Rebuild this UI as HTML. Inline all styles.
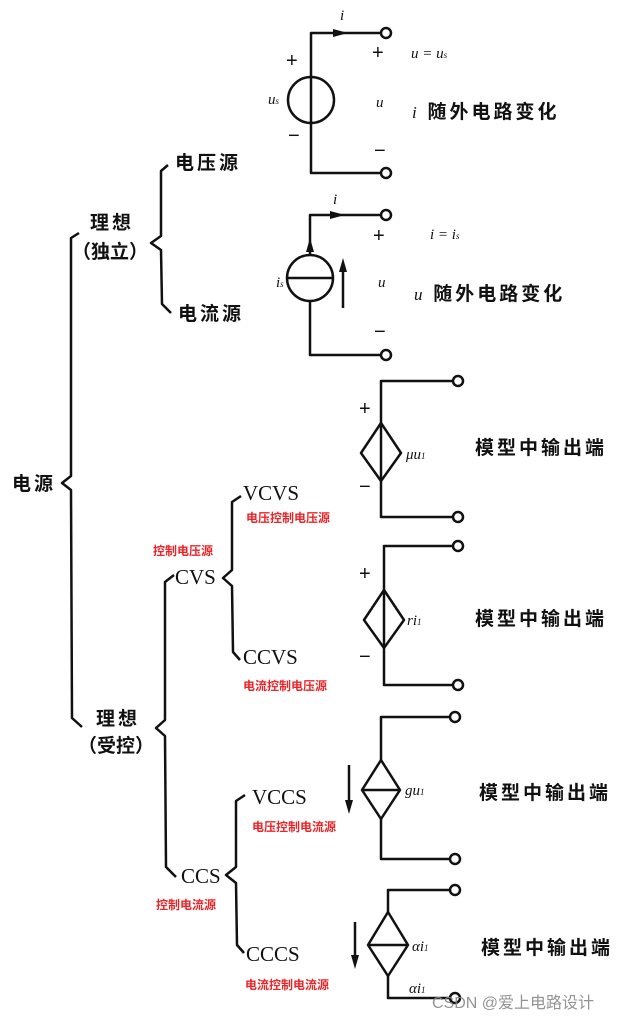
<!DOCTYPE html>
<html><head><meta charset="utf-8"><style>
html,body{margin:0;padding:0;background:#fff;}
svg{display:block;}
.cn{font-family:"Liberation Serif","Noto Sans CJK SC",sans-serif;font-size:19px;fill:#111;font-weight:bold;letter-spacing:3px;}
.red{font-family:"Liberation Sans","Noto Sans CJK SC",sans-serif;font-size:12px;fill:#e8262a;font-weight:bold;}
.en{font-family:"Liberation Serif",serif;font-size:21px;fill:#111;}
.it{font-family:"Liberation Serif",serif;font-style:italic;font-size:15px;fill:#111;}
.pm{font-family:"Liberation Sans",sans-serif;font-size:20px;fill:#111;}
</style></head><body>
<svg width="639" height="1023" viewBox="0 0 639 1023" xmlns="http://www.w3.org/2000/svg">
<g fill="none" stroke="#111" stroke-width="2.5" stroke-linejoin="round">
<path d="M79,233 L71,238 L71,476 L62,483 L71,490 L72,718 L82,727"/>
<path d="M168,165 L161,171 L161,236 L151,243 L161,250 L162,304 L171,313"/>
<path d="M174,575 L165,582 L165,720 L156,728 L165,736 L166,867 L176,877"/>
<path d="M241,496 L232,502 L232,570 L223,578 L232,586 L233,652 L240,660"/>
<path d="M245,795 L236,801 L236,867 L226,875 L236,883 L237,945 L244,953"/>
<path d="M381,33 L311,33 L311,173 L381,173"/>
<circle cx="311" cy="100" r="23"/>
<path d="M381,215 L310,215 L310,255 M310,301 L310,355 L381,355"/>
<circle cx="310" cy="278" r="23"/>
<path d="M287,278 L333,278"/>
<path d="M343,308 L343,270"/>
<path d="M453,381 L381,381 L381,517 L453,517"/>
<path d="M381,423 L401,453 L381,481 L361,453 Z"/>
<path d="M453,546 L384,546 L384,685 L453,685"/>
<path d="M384,590 L404,620 L384,648 L364,620 Z"/>
<path d="M450,717 L381,717 L381,760 M381,819 L381,859 L450,859"/>
<path d="M381,760 L400,790 L381,819 L362,790 Z M362,790 L400,790"/>
<path d="M349,765 L349,805"/>
<path d="M450,890 L388,890 L388,912 M388,976 L388,998 L450,998"/>
<path d="M388,912 L408,945 L388,976 L368,945 Z M368,945 L408,945"/>
<path d="M355,922 L355,960"/>
</g>
<g fill="#fff" stroke="#111" stroke-width="2.5">
<circle cx="386" cy="33" r="5"/><circle cx="386" cy="173" r="5"/>
<circle cx="386" cy="215" r="5"/><circle cx="386" cy="355" r="5"/>
<circle cx="458" cy="381" r="5"/><circle cx="458" cy="517" r="5"/>
<circle cx="458" cy="546" r="5"/><circle cx="458" cy="685" r="5"/>
<circle cx="455" cy="717" r="5"/><circle cx="455" cy="859" r="5"/>
<circle cx="455" cy="890" r="5"/><circle cx="455" cy="998" r="5"/>
</g>
<g fill="#111">
<path d="M333,29 L348,33 L333,37 Z"/>
<path d="M330,211 L345,215 L330,219 Z"/>
<path d="M306,252 L310,238 L314,252 Z"/>
<path d="M339,272 L343,258 L347,272 Z"/>
<path d="M345,800 L349,814 L353,800 Z"/>
<path d="M351,955 L355,969 L359,955 Z"/>
</g>
<text class="cn" x="12" y="490">电源</text>
<text class="cn" x="90" y="229">理想</text>
<text class="cn" x="72" y="258" style="letter-spacing:0">（独立）</text>
<text class="cn" x="175" y="169">电压源</text>
<text class="cn" x="178" y="320">电流源</text>
<text class="cn" x="96" y="725">理想</text>
<text class="cn" x="78" y="752" style="letter-spacing:0">（受控）</text>
<text class="en" x="175" y="584">CVS</text>
<text class="en" x="243" y="500">VCVS</text>
<text class="en" x="243" y="664">CCVS</text>
<text class="en" x="181" y="883">CCS</text>
<text class="en" x="252" y="804">VCCS</text>
<text class="en" x="246" y="961">CCCS</text>
<text class="red" x="246" y="522">电压控制电压源</text>
<text class="red" x="153" y="555">控制电压源</text>
<text class="red" x="243" y="690">电流控制电压源</text>
<text class="red" x="252" y="831">电压控制电流源</text>
<text class="red" x="156" y="909">控制电流源</text>
<text class="red" x="245" y="989">电流控制电流源</text>
<text class="it" x="340" y="20">i</text>
<text class="pm" x="286" y="67">+</text>
<text class="pm" x="288" y="142">−</text>
<text class="it" x="268" y="104">u<tspan font-size="9">s</tspan></text>
<text class="pm" x="372" y="59">+</text>
<text class="it" x="376" y="107">u</text>
<text class="pm" x="374" y="157">−</text>
<text class="it" x="411" y="58">u = u<tspan font-size="9">s</tspan></text>
<text class="cn" x="412" y="118"><tspan class="it" style="font-size:17px;font-weight:normal">i</tspan> 随外电路变化</text>
<text class="it" x="333" y="204">i</text>
<text class="pm" x="373" y="242">+</text>
<text class="it" x="378" y="287">u</text>
<text class="pm" x="374" y="338">−</text>
<text class="it" x="276" y="287">i<tspan font-size="9">s</tspan></text>
<text class="it" x="430" y="239">i = i<tspan font-size="9">s</tspan></text>
<text class="cn" x="414" y="300"><tspan class="it" style="font-size:17px;font-weight:normal">u</tspan> 随外电路变化</text>
<text class="pm" x="359" y="415">+</text>
<text class="pm" x="359" y="493">−</text>
<text class="it" x="406" y="459">μu<tspan font-size="9">1</tspan></text>
<text class="cn" x="475" y="454">模型中输出端</text>
<text class="pm" x="359" y="580">+</text>
<text class="pm" x="359" y="663">−</text>
<text class="it" x="407" y="625">ri<tspan font-size="9">1</tspan></text>
<text class="cn" x="475" y="625">模型中输出端</text>
<text class="it" x="405" y="795">gu<tspan font-size="9">1</tspan></text>
<text class="cn" x="479" y="799">模型中输出端</text>
<text class="it" x="412" y="951">αi<tspan font-size="9">1</tspan></text>
<text class="it" x="409" y="993">αi<tspan font-size="9">1</tspan></text>
<text class="cn" x="481" y="954">模型中输出端</text>
<text x="432" y="1008" font-family="Liberation Sans,Noto Sans CJK SC,sans-serif" font-size="16" fill="#888" opacity="0.9">CSDN @爱上电路设计</text>
</svg>
</body></html>
